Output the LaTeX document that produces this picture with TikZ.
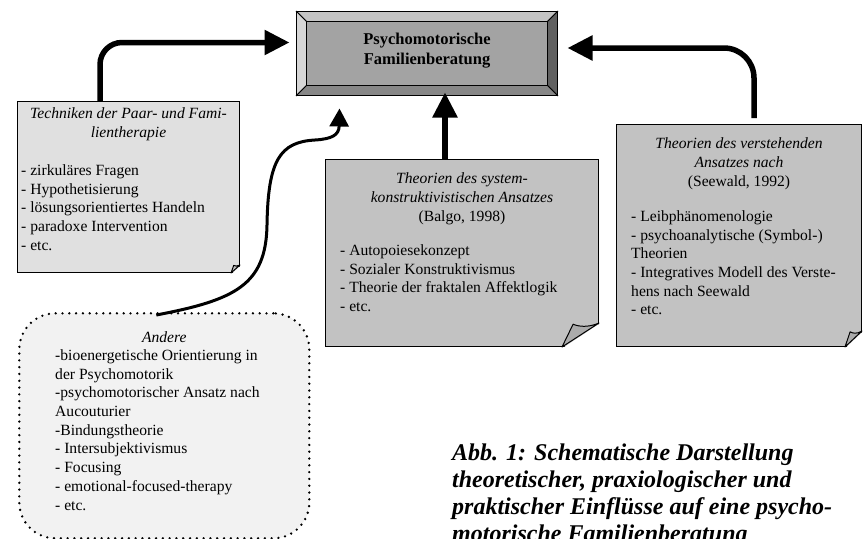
\documentclass[tikz,border=0pt]{standalone}
\usepackage{fontspec}
\setmainfont{Liberation Serif}
\usetikzlibrary{positioning,arrows.meta}

\definecolor{innergray}{gray}{0.64}
\definecolor{beveltop}{gray}{0.77}
\definecolor{bevelleft}{gray}{0.84}
\definecolor{bevelright}{gray}{0.38}
\definecolor{bevelbottom}{gray}{0.53}
\definecolor{lightpaper}{gray}{0.88}
\definecolor{darkpaper}{gray}{0.76}
\definecolor{otherpaper}{gray}{0.95}

\tikzset{
  paper/.style={draw, line width=1pt, anchor=north west, inner sep=0pt},
  heading/.style={font=\fontsize{15.6}{19}\selectfont\itshape, align=center, inner sep=0pt},
  itemlist/.style={font=\fontsize{15.6}{18.7}\selectfont, align=left, inner sep=0pt},
  bigarrow/.style={line width=5.5pt, -{Triangle[length=25pt,width=24pt]}},
  thinarrow/.style={line width=3pt, -{Triangle[length=18pt,width=19pt]}},
  fold/.style={draw, line width=1pt, line join=round},
}

% folded lower right corner: node, width, height, colour
\newcommand{\pagefold}[4]{%
  \fill[white] ([xshift=1.5pt,yshift=#3]#1.south east) -- ([xshift=1.5pt,yshift=-1.5pt]#1.south east)
    -- ([xshift=-#2,yshift=-1.5pt]#1.south east) -- cycle;
  \draw[fold, fill=#4] ([yshift=#3]#1.south east)
    .. controls ([xshift=-0.3*#2,yshift=0.8*#3]#1.south east) and ([xshift=-0.55*#2,yshift=0.85*#3]#1.south east)
    .. ([xshift=-0.7*#2,yshift=0.95*#3]#1.south east) -- ([xshift=-#2]#1.south east) -- cycle;
}

\begin{document}
\begin{tikzpicture}[x=1pt, y=-1pt]
\useasboundingbox (0,0) rectangle (864,538);

% centre box with bevel
\node[draw, line width=1pt, minimum width=260pt, minimum height=83pt, inner sep=0pt] (main) at (427,53.5) {};
\coordinate (inw) at ([xshift=10pt,yshift=-10pt]main.north west);
\coordinate (ine) at ([xshift=-10pt,yshift=-10pt]main.north east);
\coordinate (isw) at ([xshift=10pt,yshift=10pt]main.south west);
\coordinate (ise) at ([xshift=-10pt,yshift=10pt]main.south east);
\filldraw[fill=beveltop, line width=0.8pt] (main.north west) -- (main.north east) -- (ine) -- (inw) -- cycle;
\filldraw[fill=bevelleft, line width=0.8pt] (main.north west) -- (inw) -- (isw) -- (main.south west) -- cycle;
\filldraw[fill=bevelright, line width=0.8pt] (main.north east) -- (main.south east) -- (ise) -- (ine) -- cycle;
\filldraw[fill=bevelbottom, line width=0.8pt] (main.south west) -- (isw) -- (ise) -- (main.south east) -- cycle;
\filldraw[fill=innergray, line width=0.8pt] (inw) rectangle (ise);
\node[font=\fontsize{16.5}{20}\selectfont\bfseries, align=center, inner sep=0pt, yshift=3.4pt] (maintext) at (main.center) {Psychomotorische\\Familienberatung};

% Techniken
\node[paper, fill=lightpaper, minimum width=222pt, minimum height=171pt] (tech) at (17,101) {};
\pagefold{tech}{9pt}{8pt}{black!25}
\node[heading, below=6.4pt of tech.north] (techtitle) {Techniken der Paar- und Fami-\\lientherapie};
\node[itemlist, below right=63.5pt and 4pt of tech.north west] (techlist) {- zirkuläres Fragen\\- Hypothetisierung\\- lösungsorientiertes Handeln\\- paradoxe Intervention\\- etc.};

% Balgo
\node[paper, fill=darkpaper, minimum width=273pt, minimum height=187pt] (balgo) at (325,159) {};
\pagefold{balgo}{37pt}{24pt}{black!33}
\node[heading, below=13.4pt of balgo.north] (balgotitle) {Theorien des system-\\konstruktivistischen Ansatzes\\\textup{(Balgo, 1998)}};
\node[itemlist, below right=85.4pt and 15pt of balgo.north west] (balgolist) {- Autopoiesekonzept\\- Sozialer Konstruktivismus\\- Theorie der fraktalen Affektlogik\\- etc.};

% Seewald
\node[paper, fill=darkpaper, minimum width=245pt, minimum height=222pt] (seew) at (616,124) {};
\pagefold{seew}{17pt}{16pt}{black!33}
\node[heading, below=13.4pt of seew.north] (seewtitle) {Theorien des verstehenden\\Ansatzes nach\\\textup{(Seewald, 1992)}};
\node[itemlist, below right=86.4pt and 15pt of seew.north west] (seewlist) {- Leibphänomenologie\\- psychoanalytische (Symbol-)\\Theorien\\- Integratives Modell des Verste-\\hens nach Seewald\\- etc.};

% Andere
\node[paper, fill=otherpaper, rounded corners=36pt, line width=2.6pt, line cap=round, dash pattern=on 0pt off 6.8pt, minimum width=290pt, minimum height=225pt] (andere) at (18,312) {};
\node[heading, below=19.4pt of andere.north] (anderetitle) {Andere};
\node[itemlist, below right=37.4pt and 37pt of andere.north west] (anderelist) {-bioenergetische Orientierung in\\der Psychomotorik\\-psychomotorischer Ansatz nach\\Aucouturier\\-Bindungstheorie\\- Intersubjektivismus\\- Focusing\\- emotional-focused-therapy\\- etc.};

% caption
\node[font=\fontsize{24}{27}\selectfont\bfseries\itshape, align=left, inner sep=0pt, anchor=north west] (caption) at (452,443.5) {Abb. 1: Schematische Darstellung\\theoretischer, praxiologischer und\\praktischer Einflüsse auf eine psycho-\\motorische Familienberatung};

% arrows
\coordinate (balgotop) at ([xshift=120pt]balgo.north west);
\draw[bigarrow, rounded corners=22pt, shorten >=7pt] ([xshift=83pt]tech.north west) |- ([yshift=11pt]main.west);
\draw[bigarrow, rounded corners=30pt, shorten <=6pt, shorten >=10pt] ([xshift=138pt]seew.north west) |- ([yshift=5.5pt]main.east);
\draw[bigarrow, shorten >=-3pt] (balgotop) -- (balgotop |- main.south);
\draw[thinarrow] ([xshift=-8pt,yshift=-3pt]andere.north) .. controls (235,300) and (266,285) .. (267,225)
  .. controls (268,160) and (280,142) .. (315,140) .. controls (332,139) and (339,135) .. ([xshift=43pt,yshift=-13pt]main.south west);
\end{tikzpicture}
\end{document}
